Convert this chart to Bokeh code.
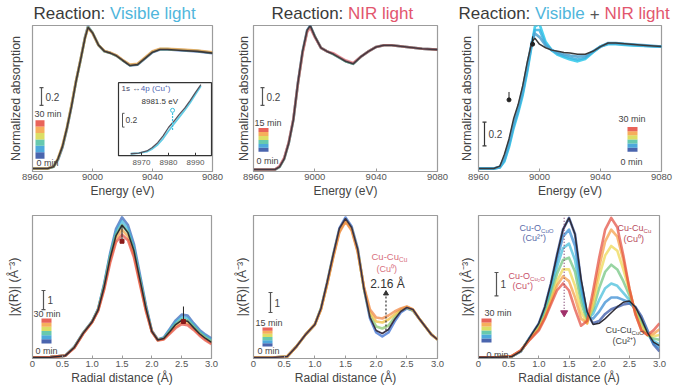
from bokeh.plotting import figure
from bokeh.layouts import column, row
from bokeh.models import Range1d, FixedTicker, NumeralTickFormatter
from bokeh.core.properties import value
from bokeh.embed import file_html
from bokeh.resources import INLINE

FONT = "Liberation Sans"

# ---------------- data ----------------
ENERGY = [8960, 8970, 8974, 8977, 8980, 8983, 8986, 8989, 8992, 8995, 8997, 9000,
          9004, 9008, 9012, 9016, 9020, 9025, 9030, 9035, 9040, 9045, 9050, 9060, 9070, 9080]
ENERGY_TICKS = [8960, 9000, 9040, 9080]

# Reaction: visible light (XANES)
VIS_XANES_0 = [0.0, 0.0, 0.02, 0.10, 0.24, 0.45, 0.70, 0.98, 1.22, 1.48, 1.60, 1.53, 1.39,
               1.32, 1.30, 1.27, 1.22, 1.16, 1.17, 1.24, 1.31, 1.34, 1.34, 1.33, 1.32, 1.30]
VIS_XANES_15 = [0.0, 0.0, 0.02, 0.11, 0.25, 0.46, 0.71, 0.98, 1.22, 1.47, 1.59, 1.53, 1.39,
                1.32, 1.30, 1.27, 1.22, 1.165, 1.175, 1.245, 1.315, 1.345, 1.345, 1.335, 1.325, 1.305]
VIS_XANES_30 = [0.0, 0.0, 0.025, 0.115, 0.26, 0.465, 0.715, 0.985, 1.225, 1.47, 1.585, 1.525, 1.39,
                1.325, 1.305, 1.275, 1.225, 1.17, 1.18, 1.25, 1.32, 1.35, 1.35, 1.34, 1.33, 1.31]
VIS_XANES_FINAL = [0.0, 0.0, 0.02, 0.11, 0.25, 0.46, 0.70, 0.98, 1.22, 1.47, 1.59, 1.53, 1.39,
                   1.32, 1.30, 1.27, 1.22, 1.16, 1.17, 1.24, 1.31, 1.34, 1.34, 1.33, 1.32, 1.30]

# inset: pre-edge 1s -> 4p (Cu+)
INSET_ENERGY = [8966, 8969, 8972, 8974, 8976, 8978, 8980, 8982, 8984, 8986, 8988, 8990, 8992]
INSET_0 = [0.0, 0.01, 0.03, 0.07, 0.13, 0.22, 0.33, 0.43, 0.53, 0.63, 0.74, 0.86, 0.98]
INSET_FINAL = [0.0, 0.01, 0.04, 0.09, 0.16, 0.26, 0.38, 0.47, 0.57, 0.66, 0.77, 0.89, 1.0]
INSET_TICKS = [8970, 8980, 8990]
EDGE_CU1 = 8981.5

# Reaction: NIR light (XANES)
NIR_XANES_0 = [0.0, 0.0, 0.0, 0.03, 0.12, 0.30, 0.56, 0.98, 1.33, 1.57, 1.62, 1.50, 1.37,
               1.33, 1.30, 1.26, 1.22, 1.19, 1.27, 1.33, 1.38, 1.40, 1.40, 1.38, 1.36, 1.35]
NIR_XANES_7 = [0.0, 0.0, 0.0, 0.03, 0.12, 0.30, 0.56, 0.97, 1.32, 1.56, 1.61, 1.50, 1.37,
               1.33, 1.30, 1.26, 1.22, 1.19, 1.27, 1.33, 1.38, 1.40, 1.40, 1.38, 1.36, 1.35]
NIR_XANES_15 = [0.0, 0.0, 0.0, 0.04, 0.13, 0.31, 0.57, 0.97, 1.31, 1.55, 1.60, 1.49, 1.37,
                1.33, 1.31, 1.27, 1.23, 1.20, 1.27, 1.33, 1.38, 1.40, 1.40, 1.38, 1.36, 1.35]
NIR_XANES_FINAL = [0.0, 0.0, 0.0, 0.03, 0.12, 0.30, 0.56, 0.98, 1.33, 1.57, 1.62, 1.50, 1.37,
                   1.33, 1.30, 1.26, 1.22, 1.19, 1.27, 1.33, 1.38, 1.40, 1.40, 1.38, 1.36, 1.35]

# Reaction: visible + NIR light (XANES)
VN_XANES_0 = [0.0, 0.0, 0.01, 0.06, 0.18, 0.34, 0.47, 0.62, 0.82, 1.05, 1.20, 1.22, 1.07,
              1.00, 0.96, 0.94, 0.92, 0.905, 0.925, 0.98, 1.03, 1.05, 1.05, 1.04, 1.035, 1.03]
VN_XANES_10 = [0.0, 0.0, 0.01, 0.07, 0.20, 0.36, 0.49, 0.64, 0.84, 1.06, 1.17, 1.17, 1.05,
               1.00, 0.97, 0.95, 0.935, 0.92, 0.935, 0.985, 1.03, 1.055, 1.055, 1.045, 1.035, 1.03]
VN_XANES_20 = [0.0, 0.0, 0.015, 0.09, 0.22, 0.38, 0.51, 0.67, 0.87, 1.07, 1.14, 1.11, 1.04,
               1.00, 0.98, 0.965, 0.955, 0.945, 0.95, 0.99, 1.03, 1.06, 1.06, 1.05, 1.04, 1.03]
VN_XANES_30 = [0.0, 0.0, 0.02, 0.12, 0.25, 0.42, 0.54, 0.70, 0.90, 1.07, 1.10, 1.05, 1.02,
               1.00, 0.99, 0.98, 0.975, 0.965, 0.965, 0.99, 1.03, 1.06, 1.06, 1.05, 1.04, 1.03]
VN_MARK_E = [8980, 8995.5]
VN_MARK_V = [0.58, 1.05]

# FT-EXAFS
R = [0, 0.3, 0.55, 0.7, 0.85, 1.0, 1.1, 1.2, 1.3, 1.4, 1.5, 1.6, 1.7, 1.8, 1.9, 2.0,
     2.1, 2.2, 2.3, 2.4, 2.5, 2.6, 2.7, 2.8, 2.9, 3.0]
R_TICKS = [0, 0.5, 1.0, 1.5, 2.0, 2.5, 3.0]

VIS_FT_0 = [0.05, 0.07, 0.15, 0.6, 1.35, 1.95, 2.6, 3.9, 5.5, 6.8, 7.4, 7.0, 6.0, 4.4, 2.8,
            1.45, 1.0, 1.1, 1.55, 2.0, 2.3, 2.25, 1.85, 1.5, 1.25, 1.05]
VIS_FT_8 = [0.05, 0.07, 0.15, 0.6, 1.34, 1.94, 2.58, 3.85, 5.4, 6.65, 7.2, 6.8, 5.8, 4.25, 2.7,
            1.43, 0.98, 1.07, 1.48, 1.9, 2.17, 2.12, 1.75, 1.42, 1.17, 0.97]
VIS_FT_15 = [0.05, 0.07, 0.15, 0.58, 1.33, 1.93, 2.56, 3.78, 5.3, 6.5, 7.0, 6.6, 5.65, 4.15, 2.65,
             1.42, 0.97, 1.05, 1.42, 1.8, 2.05, 2.0, 1.68, 1.35, 1.1, 0.9]
VIS_FT_23 = [0.05, 0.07, 0.15, 0.57, 1.31, 1.91, 2.53, 3.68, 5.15, 6.3, 6.75, 6.4, 5.45, 4.0, 2.55,
             1.41, 0.96, 1.02, 1.36, 1.7, 1.92, 1.87, 1.58, 1.27, 1.02, 0.82]
VIS_FT_30 = [0.05, 0.07, 0.15, 0.55, 1.3, 1.9, 2.5, 3.6, 5.0, 6.1, 6.5, 6.2, 5.3, 3.9, 2.5,
             1.4, 0.95, 1.0, 1.3, 1.6, 1.8, 1.75, 1.5, 1.2, 0.95, 0.75]
VIS_FT_REF = [0.05, 0.07, 0.15, 0.58, 1.33, 1.93, 2.55, 3.75, 5.25, 6.45, 7.0, 6.6, 5.65, 4.15, 2.65,
              1.42, 0.97, 1.05, 1.4, 1.78, 2.0, 1.95, 1.62, 1.3, 1.05, 0.85]
VIS_FT_MARK_R = [1.5, 2.53]
VIS_FT_MARK_V = [6.15, 1.94]

NIR_FT_0 = [0.05, 0.05, 0.1, 0.6, 1.2, 1.7, 2.5, 3.8, 5.2, 6.5, 7.05, 6.6, 5.5, 3.5, 2.0,
            1.3, 1.1, 1.3, 1.85, 2.3, 2.5, 2.4, 2.0, 1.6, 1.2, 0.95]
NIR_FT_5 = [0.05, 0.05, 0.1, 0.6, 1.2, 1.7, 2.5, 3.75, 5.15, 6.4, 6.95, 6.5, 5.4, 3.5, 2.15,
            1.6, 1.5, 1.65, 2.05, 2.4, 2.55, 2.4, 2.0, 1.6, 1.2, 0.95]
NIR_FT_10 = [0.05, 0.05, 0.1, 0.6, 1.2, 1.7, 2.45, 3.7, 5.1, 6.35, 6.9, 6.45, 5.35, 3.55, 2.3,
             1.85, 1.8, 1.95, 2.2, 2.45, 2.58, 2.45, 2.0, 1.6, 1.2, 0.95]
NIR_FT_15 = [0.05, 0.05, 0.1, 0.6, 1.2, 1.7, 2.45, 3.7, 5.05, 6.3, 6.85, 6.4, 5.3, 3.6, 2.45,
             2.05, 2.0, 2.15, 2.35, 2.5, 2.6, 2.45, 2.0, 1.6, 1.2, 0.95]
NIR_FT_REF = [0.05, 0.05, 0.1, 0.6, 1.2, 1.7, 2.5, 3.8, 5.2, 6.5, 7.0, 6.55, 5.45, 3.5, 2.05,
              1.4, 1.25, 1.45, 1.95, 2.35, 2.55, 2.45, 2.0, 1.6, 1.2, 0.95]
NIR_CU_CU_R = 2.16
NIR_ARROW_V = [1.4, 3.25]

VN_FT_0 = [0.05, 0.05, 0.08, 0.3, 0.9, 1.5, 2.2, 3.2, 4.4, 5.5, 6.0, 5.3, 3.3, 1.9, 1.5, 1.6,
           1.9, 2.1, 2.2, 2.3, 2.35, 2.2, 1.8, 1.2, 0.6, 0.3]
VN_FT_5 = [0.05, 0.05, 0.08, 0.3, 0.88, 1.45, 2.1, 3.1, 4.2, 5.2, 5.5, 4.8, 3.0, 1.8, 1.7, 2.0,
           2.4, 2.6, 2.6, 2.5, 2.4, 2.1, 1.7, 1.1, 0.65, 0.45]
VN_FT_10 = [0.05, 0.05, 0.09, 0.32, 0.86, 1.4, 2.0, 2.9, 3.9, 4.7, 4.9, 4.2, 2.7, 1.7, 1.9, 2.5,
            3.0, 3.2, 3.1, 2.8, 2.5, 2.1, 1.6, 1.1, 0.75, 0.6]
VN_FT_15 = [0.05, 0.05, 0.09, 0.32, 0.85, 1.35, 1.9, 2.7, 3.6, 4.2, 4.3, 3.7, 2.4, 1.6, 2.1, 3.0,
            3.7, 4.0, 3.8, 3.3, 2.7, 2.0, 1.5, 1.0, 0.85, 0.8]
VN_FT_20 = [0.05, 0.05, 0.1, 0.33, 0.83, 1.3, 1.8, 2.5, 3.3, 3.8, 3.8, 3.1, 2.0, 1.5, 2.3, 3.5,
            4.4, 4.8, 4.6, 3.8, 2.9, 2.0, 1.4, 1.0, 0.95, 1.0]
VN_FT_25 = [0.05, 0.05, 0.1, 0.34, 0.82, 1.25, 1.75, 2.4, 3.1, 3.5, 3.3, 2.6, 1.7, 1.5, 2.6, 3.9,
            5.0, 5.5, 5.2, 4.2, 3.0, 1.9, 1.2, 1.0, 1.05, 1.25]
VN_FT_30 = [0.05, 0.05, 0.1, 0.35, 0.8, 1.2, 1.7, 2.3, 2.9, 3.2, 2.9, 2.1, 1.4, 1.6, 2.9, 4.3,
            5.5, 6.0, 5.6, 4.4, 3.0, 1.9, 1.2, 1.0, 1.2, 1.5]
VN_FT_REF = [0.05, 0.05, 0.08, 0.3, 0.9, 1.5, 2.2, 3.2, 4.4, 5.5, 6.0, 5.3, 3.4, 2.0, 1.45, 1.5,
             1.7, 1.95, 2.2, 2.4, 2.45, 2.2, 1.7, 1.1, 0.7, 0.55]
VN_ARROW_R = 1.42
VN_ARROW_V = [6.0, 1.95]

# ---------------- styles ----------------
DARK = "#3a3a3a"
CYAN_T = "#4fb6dc"
RED_T = "#e2566e"
GRAYLINE = "#9c9c9c"
BLACKC = "#2e2c36"
BAR_COLORS = ["#2a4aa0", "#2f9ad6", "#4cc0a0", "#d6d84a", "#f5a040", "#e5483c"]

W = {'C': .722, 'u': .556, '-': .333, 'O': .778, ' ': .278, '(': .333, ')': .333, 'R': .722,
     'e': .556, 'a': .556, 'c': .5, 't': .278, 'i': .222, 'o': .556, 'n': .556, ':': .278,
     'V': .667, 's': .5, 'b': .556, 'l': .222, 'g': .556, 'h': .556, '+': .584, 'N': .722,
     'I': .278, '2': .556, '₂': .4}


def tw(s, size):
    return sum(W.get(ch, .556) for ch in s) * size


class Frame:
    def __init__(self, left, top, w, h, xr, yr):
        self.l, self.t, self.w, self.h = left, top, w, h
        self.xr, self.yr = xr, yr

    def x(self, px):
        return self.xr[0] + (px - self.l) / self.w * (self.xr[1] - self.xr[0])

    def y(self, py):
        return self.yr[0] + (self.t + self.h - py) / self.h * (self.yr[1] - self.yr[0])

    def dx(self, n):
        return n / self.w * (self.xr[1] - self.xr[0])

    def dy(self, n):
        return n / self.h * (self.yr[1] - self.yr[0])


def make_panel(F, w, h, bl, br, bt, bb, xticks, xlabel, ylabel, ystand, radial=False):
    p = figure(width=w, height=h, x_range=Range1d(*F.xr), y_range=Range1d(*F.yr),
               output_backend="svg", toolbar_location=None,
               min_border_left=bl, min_border_right=br, min_border_top=bt, min_border_bottom=bb)
    p.xgrid.visible = False
    p.ygrid.visible = False
    p.outline_line_color = GRAYLINE
    p.outline_line_width = 1.2
    xa = p.xaxis[0]
    xa.ticker = FixedTicker(ticks=xticks)
    if radial:
        xa.formatter = NumeralTickFormatter(format="0.0")
        xa.major_label_overrides = {0: "0"}
    xa.axis_label = xlabel
    xa.axis_line_color = GRAYLINE
    xa.major_tick_in = 3
    xa.major_tick_out = 0
    xa.minor_tick_in = 0
    xa.minor_tick_out = 0
    xa.major_tick_line_color = GRAYLINE
    xa.major_label_text_font = FONT
    xa.major_label_text_font_size = "9.5px"
    xa.major_label_text_color = "#555555"
    xa.major_label_standoff = 2
    xa.axis_label_text_font = FONT
    xa.axis_label_text_font_size = "12px"
    xa.axis_label_text_font_style = "normal"
    xa.axis_label_text_color = "#444444"
    xa.axis_label_standoff = 1
    ya = p.yaxis[0]
    ya.ticker = FixedTicker(ticks=[])
    ya.axis_label = ylabel
    ya.axis_line_color = GRAYLINE
    ya.major_tick_out = 0
    ya.major_tick_in = 0
    ya.minor_tick_out = 0
    ya.major_label_standoff = 0
    ya.axis_label_text_font = FONT
    ya.axis_label_text_font_size = "12.5px"
    ya.axis_label_text_font_style = "normal"
    ya.axis_label_text_color = "#444444"
    ya.axis_label_standoff = ystand
    return p


def txt(p, F, xpx, ypx, s, size=9, color=DARK, align="left", style="normal"):
    p.text(x=[F.x(xpx)], y=[F.y(ypx)], text=[s], text_font=value(FONT),
           text_font_size=f"{size}px", text_color=color, text_align=align,
           text_baseline="middle", text_font_style=style)


def sub_label(p, F, xpx, ypx, main, sub, color, size=9):
    txt(p, F, xpx, ypx, main, size, color)
    txt(p, F, xpx + tw(main, size), ypx + 3, sub, round(size * 0.68, 1), color)


def time_legend(p, F, x0, x1, ytop, ybot, top_label, tx, ty_top, ty_bot):
    n = len(BAR_COLORS)
    hseg = (ybot - ytop) / n
    p.quad(left=[F.x(x0)] * n, right=[F.x(x1)] * n,
           bottom=[F.y(ybot - i * hseg) for i in range(n)],
           top=[F.y(ybot - (i + 1) * hseg) for i in range(n)],
           fill_color=BAR_COLORS, fill_alpha=0.85, line_color=None)
    txt(p, F, tx, ty_top, top_label, 9, "#444444")
    txt(p, F, tx + 2, ty_bot, "0 min", 9, "#444444")


def scale_bar(p, F, xpx, ytop_px, length, label, color="#555555"):
    top = F.y(ytop_px)
    bot = top - length
    x = F.x(xpx)
    cap = F.dx(2)
    p.segment(x0=[x, x - cap, x - cap], y0=[bot, bot, top], x1=[x, x + cap, x + cap], y1=[top, bot, top],
              line_color=color, line_width=1.2)
    txt(p, F, xpx + 4, ytop_px + (F.h * length / (F.yr[1] - F.yr[0])) / 2, label, 10, "#444444")


def curves(p, x, series, colors, width=2.4, alpha=0.8):
    for s, c in zip(series, colors):
        p.line(x, s, line_color=c, line_width=width, line_alpha=alpha, line_join="round")


# ---------------- geometry ----------------
TOP_H, BOT_H = 178, 190
F1 = Frame(32, 25, 180, 148, (8960, 9080), (-0.033, 1.611))
F2 = Frame(253, 25, 184, 148, (8960, 9080), (-0.022, 1.622))
F3 = Frame(478, 25, 183, 148, (8960, 9080), (-0.025, 1.208))
F4 = Frame(32, 215, 179, 143, (0, 3.0), (0, 7.5))
F5 = Frame(253, 215, 184, 143, (0, 3.0), (0, 7.15))
F6 = Frame(478, 215, 181, 143, (0, 3.0), (0, 6.1))

YL_TOP = "Normalized absorption"
YL_BOT = "|χ(R)| (Å⁻³)"
XL_TOP = "Energy (eV)"
XL_BOT = "Radial distance (Å)"

# ---------------- titles ----------------
tf = figure(width=686, height=22, x_range=Range1d(0, 686), y_range=Range1d(22, 0),
            output_backend="svg", toolbar_location=None, min_border=0,
            x_axis_location=None, y_axis_location=None)
tf.grid.visible = False
tf.outline_line_color = None
TS = 17
for start, parts in [(33, [("Reaction: ", DARK), ("Visible light", CYAN_T)]),
                     (271, [("Reaction: ", DARK), ("NIR light", RED_T)]),
                     (458, [("Reaction: ", DARK), ("Visible ", CYAN_T), ("+ ", "#555555"),
                            ("NIR light", RED_T)])]:
    xx = start
    for s, c in parts:
        tf.text(x=[xx], y=[13], text=[s.strip()], text_font=value(FONT), text_font_size=f"{TS}px",
                text_color=c, text_align="left", text_baseline="middle")
        xx += tw(s, TS)

# ---------------- panel 1 ----------------
p1 = make_panel(F1, 228, TOP_H, 32, 16, 3, 27, ENERGY_TICKS, XL_TOP, YL_TOP, 10)
curves(p1, ENERGY, [VIS_XANES_0, VIS_XANES_15, VIS_XANES_30], ["#3a62b8", "#6cc27a", "#f0a050"],
       width=2.6, alpha=0.75)
p1.line(ENERGY, VIS_XANES_FINAL, line_color=BLACKC, line_width=1.6, line_alpha=0.9)
time_legend(p1, F1, 35, 44, 121, 160, "30 min", 34, 115, 164)
scale_bar(p1, F1, 41, 88, 0.2, "0.2")

# inset drawn on its own ranges inside panel 1
IX = (8970 - 109 / 2.7, 8970 + 71 / 2.7)
IY = (-18 / 70, 130 / 70)
p1.extra_x_ranges = {"ix": Range1d(*IX)}
p1.extra_y_ranges = {"iy": Range1d(*IY)}
FI = Frame(32, 25, 180, 148, IX, IY)
BOX_E = (FI.x(118), FI.x(211))
BOX_V = (FI.y(157), FI.y(83))
p1.quad(left=[BOX_E[0]], right=[BOX_E[1]], bottom=[BOX_V[0]], top=[BOX_V[1]],
        fill_color="white", line_color="#333333", line_width=1.2,
        x_range_name="ix", y_range_name="iy")
p1.line(INSET_ENERGY, INSET_0, line_color="#3cc0e0", line_width=1.8, line_alpha=0.8,
        x_range_name="ix", y_range_name="iy")
p1.line(INSET_ENERGY, INSET_FINAL, line_color="#555560", line_width=1.3,
        x_range_name="ix", y_range_name="iy")
p1.segment(x0=INSET_TICKS, y0=[BOX_V[0]] * 3, x1=INSET_TICKS, y1=[BOX_V[0] + FI.dy(3)] * 3,
           line_color="#333333", x_range_name="ix", y_range_name="iy")
p1.text(x=INSET_TICKS, y=[FI.y(163.5)] * 3, text=[str(t) for t in INSET_TICKS],
        text_font=value(FONT), text_font_size="8px", text_color="#555555",
        text_align="center", text_baseline="middle", x_range_name="ix", y_range_name="iy")
p1.segment(x0=[EDGE_CU1], y0=[FI.y(131)], x1=[EDGE_CU1], y1=[FI.y(112)],
           line_color="#3cc0e0", line_width=1.2, line_dash="2 1",
           x_range_name="ix", y_range_name="iy")
p1.scatter(x=[EDGE_CU1], y=[FI.y(111)], marker="circle", size=4, fill_color="white",
           line_color="#3cc0e0", x_range_name="ix", y_range_name="iy")
ibx = FI.x(122)
p1.segment(x0=[ibx, ibx, ibx], y0=[FI.y(114), FI.y(114), FI.y(128)],
           x1=[ibx, ibx + FI.dx(2), ibx + FI.dx(2)], y1=[FI.y(128), FI.y(114), FI.y(128)],
           line_color="#555555", x_range_name="ix", y_range_name="iy")
txt(p1, F1, 125, 121, "0.2", 8.5, "#444444")
txt(p1, F1, 121, 89, "1s ↔", 8, "#444466")
txt(p1, F1, 121 + tw("1s ↔ ", 8) + 2, 89, "4p (Cu⁺)", 8, "#4a62b0")
txt(p1, F1, 141, 102, "8981.5 eV", 8, "#333333")

# ---------------- panel 2 ----------------
p2 = make_panel(F2, 228, TOP_H, 25, 19, 3, 27, ENERGY_TICKS, XL_TOP, YL_TOP, 3)
curves(p2, ENERGY, [NIR_XANES_0, NIR_XANES_7, NIR_XANES_15], ["#3a62b8", "#6cc27a", "#e5707a"],
       width=2.6, alpha=0.75)
p2.line(ENERGY, NIR_XANES_FINAL, line_color=BLACKC, line_width=1.6, line_alpha=0.85)
time_legend(p2, F2, 258, 268, 129, 153, "15 min", 254, 124, 162)
scale_bar(p2, F2, 262, 88, 0.2, "0.2")

# ---------------- panel 3 ----------------
p3 = make_panel(F3, 230, TOP_H, 22, 25, 3, 27, ENERGY_TICKS, XL_TOP, YL_TOP, 5)
curves(p3, ENERGY, [VN_XANES_0, VN_XANES_10, VN_XANES_20], ["#2ec8ea", "#3ab4e0", "#4fa2d0"],
       width=2.6, alpha=0.85)
p3.line(ENERGY, VN_XANES_30, line_color="#3a3a3a", line_width=1.5)
p3.scatter(x=VN_MARK_E, y=VN_MARK_V, marker="circle", size=4, fill_color="#222222", line_color="#222222")
p3.segment(x0=VN_MARK_E, y0=VN_MARK_V, x1=VN_MARK_E, y1=[v + F3.dy(8) for v in VN_MARK_V],
           line_color="#222222", line_width=1)
time_legend(p3, F3, 627, 637, 128, 153, "30 min", 618, 120, 163)
scale_bar(p3, F3, 484, 123, 0.2, "0.2", color="#333333")

# ---------------- panel 4 ----------------
p4 = make_panel(F4, 228, BOT_H, 32, 17, 15, 32, R_TICKS, XL_BOT, YL_BOT, 12, radial=True)
curves(p4, R, [VIS_FT_0, VIS_FT_8, VIS_FT_15, VIS_FT_23, VIS_FT_30],
       ["#2f5fb8", "#3cb4dc", "#6cc27a", "#f5a040", "#e5483c"], width=2.6, alpha=0.7)
p4.line(R, VIS_FT_REF, line_color=BLACKC, line_width=1.5)
p4.segment(x0=VIS_FT_MARK_R, y0=[v + F4.dy(15) for v in VIS_FT_MARK_V], x1=VIS_FT_MARK_R,
           y1=VIS_FT_MARK_V, line_color="#222222", line_width=1)
p4.scatter(x=VIS_FT_MARK_R, y=VIS_FT_MARK_V, marker="square", size=4, fill_color="#8a1a1a",
           line_color="#8a1a1a")
time_legend(p4, F4, 41, 51, 318, 343, "30 min", 33, 313, 350)
scale_bar(p4, F4, 43, 290, 1, "1")

# ---------------- panel 5 ----------------
p5 = make_panel(F5, 228, BOT_H, 25, 19, 15, 32, R_TICKS, XL_BOT, YL_BOT, 5, radial=True)
curves(p5, R, [NIR_FT_0, NIR_FT_5, NIR_FT_10, NIR_FT_15],
       ["#3a6ed0", "#8cc870", "#f0c040", "#f08a4a"], width=2.6, alpha=0.75)
p5.line(R, NIR_FT_REF, line_color="#3a3248", line_width=1.6)
p5.segment(x0=[NIR_CU_CU_R], y0=[NIR_ARROW_V[0]], x1=[NIR_CU_CU_R], y1=[NIR_ARROW_V[1]],
           line_color="#333333", line_width=1.2, line_dash="2 2")
p5.scatter(x=[NIR_CU_CU_R], y=[NIR_ARROW_V[1]], marker="triangle", size=5,
           fill_color="#333333", line_color="#333333")
sub_label(p5, F5, 371, 256, "Cu-Cu", "Cu", "#d8707e", 9.5)
txt(p5, F5, 376, 268, "(Cu⁰)", 9, "#d8707e")
txt(p5, F5, 387, 283, "2.16 Å", 12, "#333333", align="center")
time_legend(p5, F5, 262, 272, 327, 346, "15 min", 255, 322, 350)
scale_bar(p5, F5, 270, 292, 1, "1")

# ---------------- panel 6 ----------------
p6 = make_panel(F6, 230, BOT_H, 22, 27, 15, 32, R_TICKS, XL_BOT, YL_BOT, 5, radial=True)
curves(p6, R, [VN_FT_0, VN_FT_5, VN_FT_10, VN_FT_15, VN_FT_20, VN_FT_25, VN_FT_30],
       ["#2a4aa0", "#2f86d0", "#3dbbd9", "#6cc27a", "#ecd64a", "#f59a3e", "#e24a3c"],
       width=2.6, alpha=0.7)
p6.line(R, VN_FT_REF, line_color=BLACKC, line_width=1.5)
p6.segment(x0=[VN_ARROW_R], y0=[VN_ARROW_V[0]], x1=[VN_ARROW_R], y1=[VN_ARROW_V[1]],
           line_color="#7a3a6a", line_width=1.2, line_dash="1 2")
p6.scatter(x=[VN_ARROW_R], y=[VN_ARROW_V[1]], marker="inverted_triangle", size=7,
           fill_color="#a0306a", line_color="#a0306a")
sub_label(p6, F6, 519, 227, "Cu-O", "CuO", "#5a6aa8", 9)
txt(p6, F6, 522, 237, "(Cu²⁺)", 9, "#5a6aa8")
sub_label(p6, F6, 508, 275, "Cu-O", "Cu₂O", "#c8506a", 9)
txt(p6, F6, 512, 285, "(Cu⁺)", 9, "#c8506a")
sub_label(p6, F6, 617, 227, "Cu-Cu", "Cu", "#b84a5a", 9)
txt(p6, F6, 623, 238, "(Cu⁰)", 9, "#b84a5a")
sub_label(p6, F6, 605, 329, "Cu-Cu", "CuO", "#444444", 9)
txt(p6, F6, 612, 340, "(Cu²⁺)", 9, "#444444")
time_legend(p6, F6, 481, 491, 318, 342, "30 min", 484, 312, 354)
scale_bar(p6, F6, 496, 272, 1, "1")

layout = column(tf, row(p1, p2, p3), row(p4, p5, p6))
open("out.html", "w").write(file_html(layout, INLINE))
